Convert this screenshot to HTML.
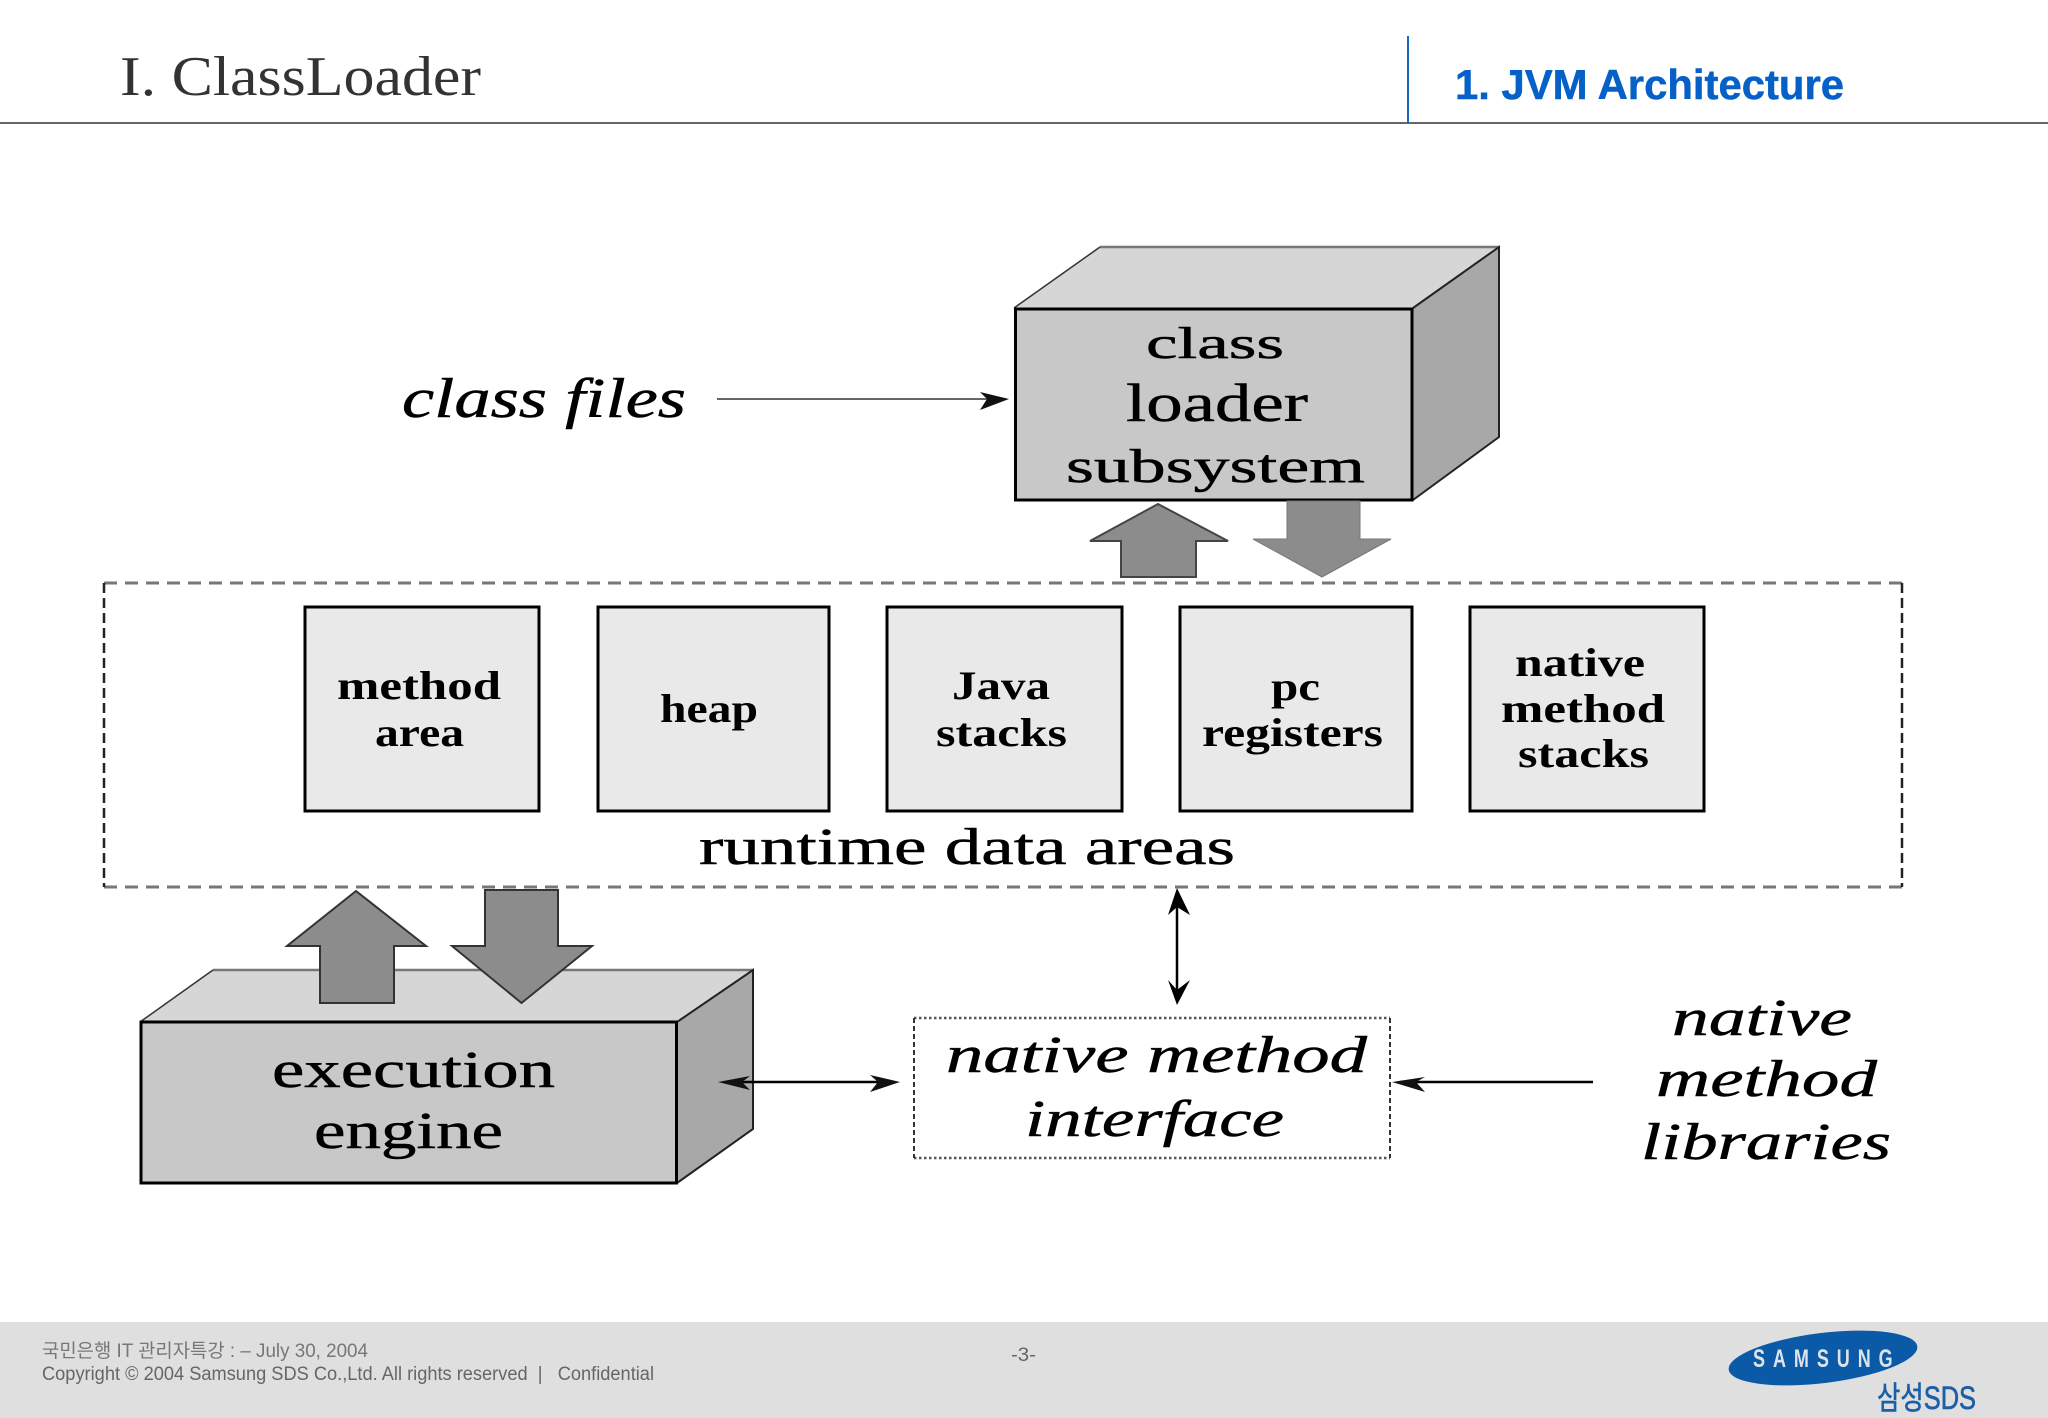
<!DOCTYPE html>
<html lang="en">
<head>
<meta charset="utf-8">
<title>I. ClassLoader</title>
<style>
html,body{margin:0;padding:0;background:#fff;width:2048px;height:1418px;overflow:hidden}
svg{display:block}
.s{font-family:"Liberation Serif","Noto Serif CJK KR",serif;fill:#000;stroke:#000;stroke-width:.5px}
.t{font-family:"Liberation Serif",serif;fill:#333}
.i{font-style:italic}
.b{font-weight:bold;stroke-width:0}
.a{font-family:"Liberation Sans","Noto Sans CJK KR",sans-serif;white-space:pre}
.w{font-weight:bold}
</style>
</head>
<body>
<svg xmlns="http://www.w3.org/2000/svg" width="2048" height="1418" viewBox="0 0 2048 1418">
<rect width="2048" height="1418" fill="#fff"/>

<!-- header -->
<line x1="0" y1="123" x2="2048" y2="123" stroke="#666" stroke-width="2"/>
<line x1="1408" y1="36" x2="1408" y2="123" stroke="#1a66c0" stroke-width="2"/>
<text class="t" x="120" y="95" font-size="56" textLength="361" lengthAdjust="spacingAndGlyphs">I. ClassLoader</text>
<text class="a w" x="1455" y="99" font-size="42" textLength="389" lengthAdjust="spacingAndGlyphs" style="fill:#0561c8;stroke:#0561c8;stroke-width:.5px">1. JVM Architecture</text>

<!-- class loader cube -->
<polygon points="1014,308 1100,247 1499,247 1413,308" fill="#d6d6d6"/>
<polygon points="1413,308 1499,247 1499,437 1413,500" fill="#a8a8a8"/>
<line x1="1100" y1="247" x2="1499" y2="247" stroke="#777" stroke-width="2.5"/>
<polyline points="1014,308 1100,247" fill="none" stroke="#333" stroke-width="1.5"/>
<polyline points="1413,308 1499,247 1499,437 1413,500" fill="none" stroke="#222" stroke-width="2"/>
<rect x="1015.5" y="309" width="396.500" height="191" fill="#c8c8c8" stroke="#000" stroke-width="3"/>
<text class="s" x="1146" y="358" font-size="44" textLength="138" lengthAdjust="spacingAndGlyphs">class</text>
<text class="s" x="1126" y="421" font-size="54" textLength="182" lengthAdjust="spacingAndGlyphs">loader</text>
<text class="s" x="1066" y="482" font-size="48" textLength="299" lengthAdjust="spacingAndGlyphs">subsystem</text>

<!-- class files -->
<text class="s i" x="402" y="417" font-size="56" textLength="284" lengthAdjust="spacingAndGlyphs">class files</text>
<line x1="717" y1="399" x2="1000" y2="399" stroke="#666" stroke-width="2"/>
<polygon points="1009,399 980,392 987,399 980,410" fill="#111"/>

<!-- arrows class loader <-> runtime -->
<polygon points="1158,504 1228,541 1196,541 1196,577 1121,577 1121,541 1090,541" fill="#8c8c8c" stroke="#444" stroke-width="2"/>
<polygon points="1287,501 1360,501 1360,539 1391,539 1322,577 1253,539 1287,539" fill="#8c8c8c" stroke="#777" stroke-width="1"/>

<!-- runtime data areas -->
<line x1="104" y1="583" x2="1902" y2="583" stroke="#777" stroke-width="3" stroke-dasharray="13 8"/>
<line x1="104" y1="887" x2="1902" y2="887" stroke="#777" stroke-width="3" stroke-dasharray="13 8"/>
<line x1="104" y1="583" x2="104" y2="887" stroke="#222" stroke-width="2.5" stroke-dasharray="10 5"/>
<line x1="1902" y1="583" x2="1902" y2="887" stroke="#222" stroke-width="2.5" stroke-dasharray="10 5"/>

<g fill="#e9e9e9" stroke="#000" stroke-width="3">
<rect x="305" y="607" width="234" height="204"/>
<rect x="598" y="607" width="231" height="204"/>
<rect x="887" y="607" width="235" height="204"/>
<rect x="1180" y="607" width="232" height="204"/>
<rect x="1470" y="607" width="234" height="204"/>
</g>

<text class="s b" x="337" y="699" font-size="40" textLength="164" lengthAdjust="spacingAndGlyphs">method</text>
<text class="s b" x="375" y="746" font-size="40" textLength="89" lengthAdjust="spacingAndGlyphs">area</text>
<text class="s b" x="660" y="722" font-size="40" textLength="98" lengthAdjust="spacingAndGlyphs">heap</text>
<text class="s b" x="952" y="699" font-size="40" textLength="98" lengthAdjust="spacingAndGlyphs">Java</text>
<text class="s b" x="936" y="746" font-size="40" textLength="131" lengthAdjust="spacingAndGlyphs">stacks</text>
<text class="s b" x="1271" y="700" font-size="40" textLength="49" lengthAdjust="spacingAndGlyphs">pc</text>
<text class="s b" x="1202" y="746" font-size="40" textLength="181" lengthAdjust="spacingAndGlyphs">registers</text>
<text class="s b" x="1515" y="676" font-size="40" textLength="130" lengthAdjust="spacingAndGlyphs">native</text>
<text class="s b" x="1501" y="722" font-size="40" textLength="164" lengthAdjust="spacingAndGlyphs">method</text>
<text class="s b" x="1518" y="767" font-size="40" textLength="131" lengthAdjust="spacingAndGlyphs">stacks</text>
<text class="s" x="699" y="864" font-size="52" textLength="536" lengthAdjust="spacingAndGlyphs">runtime data areas</text>

<!-- execution engine cube -->
<polygon points="140,1022 213,970 753,970 677,1022" fill="#d6d6d6"/>
<polygon points="677,1022 753,970 753,1129 677,1183" fill="#a8a8a8"/>
<line x1="213" y1="970" x2="753" y2="970" stroke="#777" stroke-width="2.5"/>
<polyline points="140,1022 213,970" fill="none" stroke="#333" stroke-width="1.5"/>
<polyline points="677,1022 753,970 753,1129 677,1183" fill="none" stroke="#222" stroke-width="2"/>
<rect x="141" y="1022" width="535.500" height="161" fill="#c8c8c8" stroke="#000" stroke-width="3"/>
<text class="s" x="272" y="1087" font-size="52" textLength="283" lengthAdjust="spacingAndGlyphs">execution</text>
<text class="s" x="314" y="1148" font-size="52" textLength="189" lengthAdjust="spacingAndGlyphs">engine</text>

<!-- arrows runtime <-> execution -->
<polygon points="356,891 426,946 394,946 394,1003 320,1003 320,946 287,946" fill="#8c8c8c" stroke="#333" stroke-width="2"/>
<polygon points="485,890 558,890 558,946 592,946 521.500,1003 452,946 485,946" fill="#8c8c8c" stroke="#333" stroke-width="2"/>

<!-- native method interface -->
<line x1="914" y1="1018" x2="1390" y2="1018" stroke="#555" stroke-width="2.500" stroke-dasharray="2.500 2.500"/>
<line x1="914" y1="1158" x2="1390" y2="1158" stroke="#555" stroke-width="2.500" stroke-dasharray="2.500 2.500"/>
<line x1="914" y1="1018" x2="914" y2="1158" stroke="#333" stroke-width="2" stroke-dasharray="5 3"/>
<line x1="1390" y1="1018" x2="1390" y2="1158" stroke="#333" stroke-width="2" stroke-dasharray="5 3"/>
<text class="s i" x="946" y="1072" font-size="52" textLength="421" lengthAdjust="spacingAndGlyphs">native method</text>
<text class="s i" x="1025" y="1136" font-size="52" textLength="259" lengthAdjust="spacingAndGlyphs">interface</text>

<!-- connectors -->
<line x1="1177" y1="895" x2="1177" y2="998" stroke="#000" stroke-width="2.500"/>
<polygon points="1177,888 1190,915 1177,907 1168,915" fill="#000"/>
<polygon points="1177,1005 1190,980 1177,990 1168,980" fill="#000"/>

<line x1="725" y1="1082" x2="892" y2="1082" stroke="#000" stroke-width="2.500"/>
<polygon points="718,1082 750,1076 742,1082 750,1090" fill="#111"/>
<polygon points="900,1082 870,1075 878,1082 870,1092" fill="#111"/>

<line x1="1400" y1="1082" x2="1593" y2="1082" stroke="#000" stroke-width="2.500"/>
<polygon points="1392,1082 1425,1077 1416,1082 1425,1092" fill="#111"/>

<!-- native method libraries -->
<text class="s i" x="1672" y="1035" font-size="52" textLength="180" lengthAdjust="spacingAndGlyphs">native</text>
<text class="s i" x="1656" y="1096" font-size="52" textLength="221" lengthAdjust="spacingAndGlyphs">method</text>
<text class="s i" x="1641" y="1159" font-size="52" textLength="250" lengthAdjust="spacingAndGlyphs">libraries</text>

<!-- footer -->
<rect x="0" y="1322" width="2048" height="96" fill="#dfdfdf"/>
<text class="a" x="42" y="1357" font-size="19" textLength="326" lengthAdjust="spacingAndGlyphs" style="fill:#777">국민은행 IT 관리자특강 : – July 30, 2004</text>
<text class="a" x="42" y="1380" font-size="19" textLength="612" lengthAdjust="spacingAndGlyphs" style="fill:#666">Copyright © 2004 Samsung SDS Co.,Ltd. All rights reserved  |   Confidential</text>
<text class="a" x="1011" y="1361" font-size="19" textLength="25" lengthAdjust="spacingAndGlyphs" style="fill:#666">-3-</text>

<!-- logo -->
<ellipse cx="1823" cy="1358" rx="95" ry="25" transform="rotate(-7 1823 1358)" fill="#0a5aa8"/>
<text class="a w" transform="translate(1753 1367) scale(.72 1)" font-size="25" textLength="194" lengthAdjust="spacing" style="fill:#dde3ea">SAMSUNG</text>
<text class="a" x="1877" y="1409" font-size="32" textLength="99" lengthAdjust="spacingAndGlyphs" style="fill:#1a5fa8;stroke:#1a5fa8;stroke-width:.6px">삼성SDS</text>
</svg>
</body>
</html>
